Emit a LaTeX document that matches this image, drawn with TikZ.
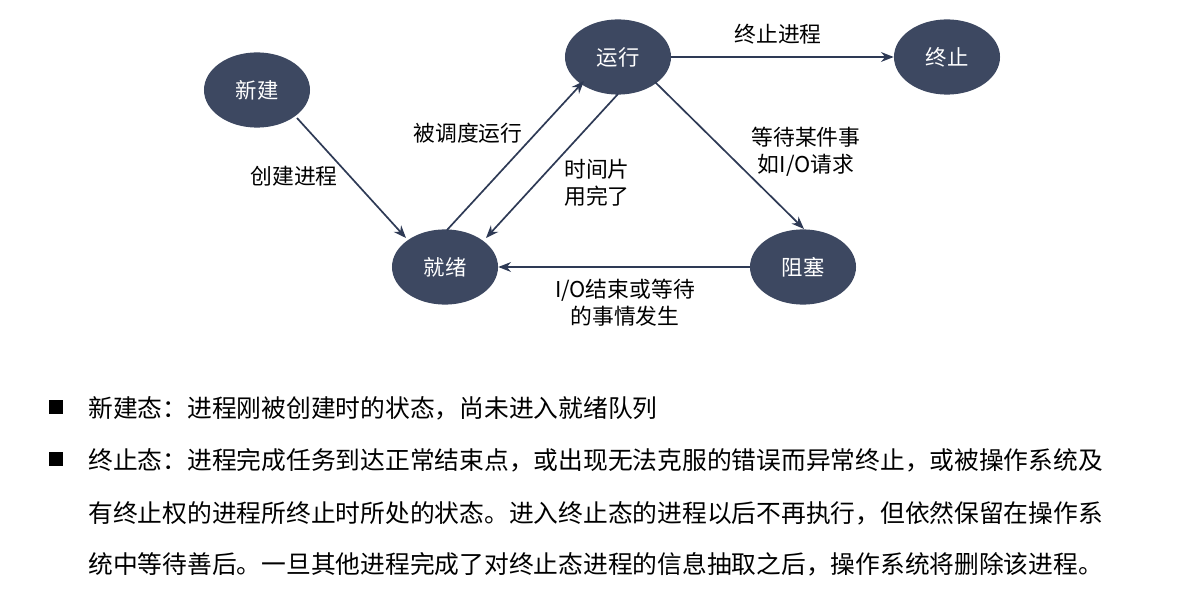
\documentclass[tikz,border=0pt]{standalone}
\usepackage{fontspec}
\setmainfont{Noto Sans CJK SC}
\usetikzlibrary{shapes.geometric,arrows.meta}
\definecolor{st}{HTML}{3D4861}
\definecolor{ln}{HTML}{2E3A55}
\tikzset{
 state/.style={ellipse,fill=st,text=white,minimum width=2.65cm,minimum height=1.88cm,inner sep=0pt,font=\fontsize{15.2}{17}\selectfont},
 conn/.style={draw=ln,line width=1.2pt,-{Stealth[length=9pt,width=7pt]}},
 lab/.style={align=center,font=\fontsize{15.5}{19}\selectfont,text=black},
 txt/.style={anchor=west,inner sep=0pt,font=\fontsize{17.6}{19}\selectfont},
 sq/.style={fill=black,minimum size=0.33cm,inner sep=0pt}
}
\begin{document}
\begin{tikzpicture}[x=0.025cm,y=-0.025cm]
\useasboundingbox (0,0) rectangle (1192,590);
\fill[white] (0,0) rectangle (1192,590);
\node[state] (new) at (257,90) {新建};
\node[state] (run) at (618,57) {运行};
\node[state] (end) at (947,57) {终止};
\node[state] (ready) at (445,267) {就绪};
\node[state] (block) at (803,267) {阻塞};
\coordinate (a1) at (297,118); \coordinate (a2) at (406,238);
\coordinate (b1) at (447,230); \coordinate (b2) at (584,81);
\coordinate (c1) at (618,94); \coordinate (c2) at (486,238);
\coordinate (d1) at (655,82); \coordinate (d2) at (804,229);
\draw[conn] (a1) -- (a2);
\draw[conn] (b1) -- (b2);
\draw[conn] (c1) -- (c2);
\draw[conn] (d1) -- (d2);
\draw[conn] (block.west) -- (ready.east);
\draw[conn] (run.east) -- (end.west);
\node[lab] (l1) at (294,176) {创建进程};
\node[lab] (l2) at (468,133) {被调度运行};
\node[lab] (l3) at (597,183) {时间片\\用完了};
\node[lab] (l4) at (806,152) {等待某件事\\如I/O请求};
\node[lab] (l5) at (625,303) {I/O结束或等待\\的事情发生};
\node[lab] (l6) at (778,34) {终止进程};
\node[sq] (s1) at (56,407) {};
\node[sq] (s2) at (56,459) {};
\node[txt] (t1) at (88,408) {新建态：进程刚被创建时的状态，尚未进入就绪队列};
\node[txt] (t2) at (88,460) {终止态：进程完成任务到达正常结束点，或出现无法克服的错误而异常终止，或被操作系统及};
\node[txt] (t3) at (88,513) {有终止权的进程所终止时所处的状态。进入终止态的进程以后不再执行，但依然保留在操作系};
\node[txt] (t4) at (88,564) {统中等待善后。一旦其他进程完成了对终止态进程的信息抽取之后，操作系统将删除该进程。};
\end{tikzpicture}
\end{document}
